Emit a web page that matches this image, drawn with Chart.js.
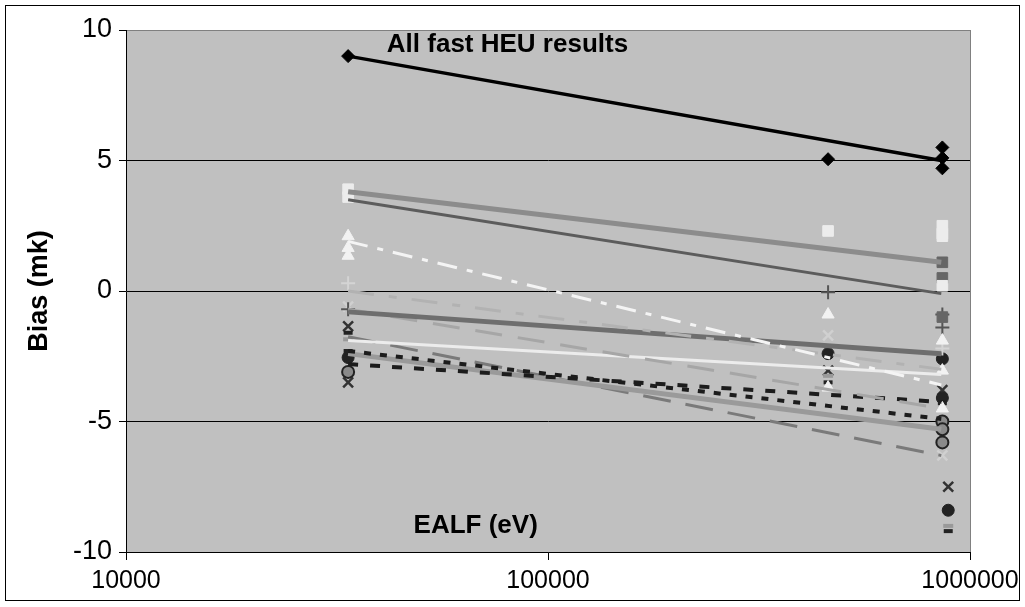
<!DOCTYPE html>
<html>
<head>
<meta charset="utf-8">
<script src="https://cdn.jsdelivr.net/npm/chart.js@4.4.1/dist/chart.umd.min.js"></script>
<style>
  html, body { margin: 0; padding: 0; background: #fff; }
  #wrap { position: relative; width: 1025px; height: 607px; }
  #frame { position: absolute; left: 5px; top: 5px; width: 1013px; height: 594px; border: 1px solid #000; pointer-events: none; }
  canvas { position: absolute; left: 0; top: 0; }
</style>
</head>
<body>
<div id="wrap">
  <canvas id="chart" width="1025" height="607"></canvas>
  <div id="frame"></div>
</div>
<script>
/* fast HEU bias vs EALF */

const xTicks = [10000, 100000, 1000000];
const yTicks = [-10, -5, 0, 5, 10];

// EALF positions where the benchmark groups sit
const X1 = 33600, X2 = 461000, X3 = 860000, X4 = 888000;

// trend lines (log fits): value at start and at end
const fitStartX = 33600, fitEndX = 855000;
const trendFrom = [9.0, 3.8, 3.5, 1.9, 0.0, -0.8, -0.7, -1.9, -2.3, -2.8, -2.4, -1.75];
const trendTo   = [5.0, 1.1, -0.1, -3.6, -3.0, -2.4, -4.5, -3.2, -4.9, -4.25, -5.3, -6.3];

// marker series
const diamondX = [X1, X2, X3, X3, X3];
const diamondY = [9.0, 5.05, 5.5, 5.1, 4.7];
const whiteSqX = [X1, X1, X2, X3, X3, X3, X3];
const whiteSqY = [3.9, 3.6, 2.3, 2.5, 2.2, 2.1, 0.2];
const darkSqX = [X3, X3, X3];
const darkSqY = [1.1, 0.5, -1.0];
const triX = [X1, X1, X1, X2, X2, X3, X3, X3];
const triY = [2.1, 1.65, 1.35, -0.9, -3.7, -1.9, -3.05, -4.5];
const lightPlusX = [X1, X3];
const lightPlusY = [0.3, -2.2];
const darkPlusX = [X1, X2, X3, X3];
const darkPlusY = [-0.7, -0.05, -0.9, -1.4];
const lightXX = [X1, X2, X3];
const lightXY = [-0.6, -1.7, -6.3];
const grayDashX = [X1, X2, X4];
const grayDashY = [-1.85, -3.25, -9.0];
const blackDashX = [X1, X1, X2, X3, X4];
const blackDashY = [-1.6, -2.3, -3.5, -4.3, -9.2];
const blackCircX = [X1, X2, X3, X3, X4];
const blackCircY = [-2.55, -2.4, -2.6, -4.1, -8.4];
const grayCircX = [X1, X3, X3, X3];
const grayCircY = [-3.1, -5.0, -5.3, -5.8];
const darkXX = [X1, X1, X2, X3, X4];
const darkXY = [-1.35, -3.5, -3.05, -3.8, -7.5];

// styles of trend lines
const trendColor = ['#000000', '#8c8c8c', '#5c5c5c', '#f4f4f4', '#b2b2b2', '#6e6e6e', '#a6a6a6', '#ececec', '#1c1c1c', '#1c1c1c', '#9a9a9a', '#7a7a7a'];
const trendWidth = [3.5, 5, 3, 3, 3, 5, 3, 3, 4, 4, 5, 3];
const trendDash = [[], [], [], [20, 10, 6, 10], [26, 15, 8, 15], [], [27, 16], [], [7, 9], [10, 12], [], [28, 15]];

const FONT = '"Liberation Sans", Arial, sans-serif';

function pts(xs, ys) { return xs.map((x, i) => ({ x: x, y: ys[i] })); }

const datasets = [];

// trend lines go first so they sit above the markers
trendFrom.forEach((v, i) => {
  datasets.push({
    type: 'line',
    data: [{ x: fitStartX, y: v }, { x: fitEndX, y: trendTo[i] }],
    borderColor: trendColor[i],
    borderWidth: trendWidth[i],
    borderDash: trendDash[i],
    pointRadius: 0,
    fill: false,
    tension: 0
  });
});

const marker = (xs, ys, style, r, bg, bd, bw) => ({
  type: 'scatter',
  data: pts(xs, ys),
  pointStyle: style,
  pointRadius: r,
  backgroundColor: bg,
  borderColor: bd,
  borderWidth: bw,
  showLine: false
});

datasets.push(marker(diamondX, diamondY, 'rectRot', 6.5, '#000', '#000', 1));
datasets.push(marker(whiteSqX, whiteSqY, 'rect', 7.5, '#ececec', '#ececec', 1));
datasets.push(marker(darkSqX, darkSqY, 'rect', 7.5, '#666', '#666', 1));
datasets.push(marker(triX, triY, 'triangle', 7, '#f2f2f2', '#f2f2f2', 1));
datasets.push(marker(lightPlusX, lightPlusY, 'cross', 7, '#d4d4d4', '#d4d4d4', 2));
datasets.push(marker(darkPlusX, darkPlusY, 'cross', 7, '#555', '#555', 2));
datasets.push(marker(lightXX, lightXY, 'crossRot', 7, '#d0d0d0', '#d0d0d0', 2.5));
datasets.push(marker(grayDashX, grayDashY, 'line', 5, '#999', '#999', 4));
datasets.push(marker(blackDashX, blackDashY, 'line', 4.5, '#222', '#222', 4));
datasets.push(marker(blackCircX, blackCircY, 'circle', 6, '#222', '#222', 1));
datasets.push(marker(grayCircX, grayCircY, 'circle', 6, '#8a8a8a', '#222', 2));
datasets.push(marker(darkXX, darkXY, 'crossRot', 7, '#333', '#333', 2.5));

/* plot background, right border and the two inner captions */
const plotDeco = {
  id: 'plotDeco',
  beforeDraw(chart) {
    const { ctx, chartArea: a } = chart;
    ctx.save();
    ctx.fillStyle = '#c0c0c0';
    ctx.fillRect(a.left, a.top, a.right - a.left, a.bottom - a.top);
    ctx.strokeStyle = '#808080';
    ctx.lineWidth = 1;
    ctx.beginPath();
    ctx.moveTo(a.right + 0.5, a.top);
    ctx.lineTo(a.right + 0.5, a.bottom);
    ctx.stroke();
    ctx.restore();
  },
  afterDatasetsDraw(chart) {
    const { ctx, scales } = chart;
    ctx.save();
    ctx.fillStyle = '#000';
    ctx.font = 'bold 26px ' + FONT;
    ctx.textBaseline = 'middle';
    ctx.textAlign = 'left';
    ctx.fillText('All fast HEU results', scales.x.getPixelForValue(41500), scales.y.getPixelForValue(9.45));
    ctx.textAlign = 'center';
    ctx.fillText('EALF (eV)', scales.x.getPixelForValue(67400), scales.y.getPixelForValue(-9.0));
    ctx.restore();
  }
};

new Chart(document.getElementById('chart'), {
  type: 'scatter',
  data: { datasets: datasets },
  plugins: [plotDeco],
  options: {
    responsive: false,
    animation: false,
    devicePixelRatio: 1,
    layout: { padding: { top: 30, right: 55, bottom: 0, left: 0 } },
    plugins: { legend: { display: false }, tooltip: { enabled: false } },
    scales: {
      x: {
        type: 'logarithmic',
        min: 10000,
        max: 1000000,
        afterBuildTicks: s => { s.ticks = xTicks.map(v => ({ value: v })); },
        afterFit: s => { s.height = 55; },
        ticks: {
          callback: v => String(v),
          color: '#000',
          font: { family: FONT, size: 25 },
          padding: 6,
          maxRotation: 0,
          autoSkip: false
        },
        grid: { drawOnChartArea: false, tickLength: 8, tickColor: '#000' },
        border: { color: '#000', width: 1 }
      },
      y: {
        min: -10,
        max: 10,
        afterBuildTicks: s => { s.ticks = yTicks.map(v => ({ value: v })); },
        afterFit: s => { s.width = 126; },
        ticks: {
          color: '#000',
          font: { family: FONT, size: 27 },
          padding: 7
        },
        grid: {
          color: c => (c.tick && c.tick.value === 10) ? '#808080' : '#000',
          tickColor: '#000',
          tickLength: 7,
          lineWidth: 1
        },
        border: { color: '#000', width: 1 },
        title: {
          display: true,
          text: 'Bias (mk)',
          color: '#000',
          font: { family: FONT, size: 27, weight: 'bold' },
          padding: { top: 23, bottom: 0 }
        }
      }
    }
  }
});
</script>
</body>
</html>
